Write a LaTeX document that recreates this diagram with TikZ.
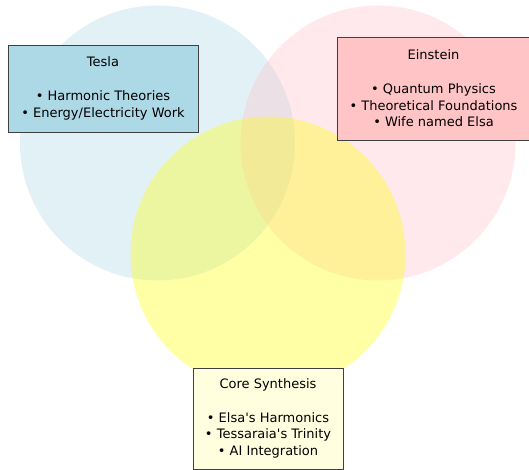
\documentclass[tikz,border=0pt]{standalone}
\usepackage{fontspec}
\setmainfont{DejaVu Sans}
\usetikzlibrary{positioning}

\definecolor{teslablue}{HTML}{ADD8E6}
\definecolor{einsteinpink}{HTML}{FFC0CB}
\definecolor{einsteinbox}{HTML}{FFC4C6}
\definecolor{coreyellow}{HTML}{FFFF00}
\definecolor{corepale}{HTML}{FFFFE0}

\tikzset{
  bubble/.style={fill opacity=0.35},
  topic/.style={draw=black!75, line width=0.8pt, align=center, inner sep=0pt,
    font=\fontsize{13}{16.8}\selectfont}
}

\begin{document}
\begin{tikzpicture}[x=1pt, y=-1pt]
        \useasboundingbox (0,0) rectangle (529,470);

        \fill[teslablue, bubble]    (157.5,143) circle (137.5pt);
        \fill[einsteinpink, bubble] (378,143)   circle (137.5pt);
        \fill[coreyellow, bubble]   (268,254)   circle (137.5pt);

        \node[topic, fill=teslablue, minimum width=190pt, minimum height=87pt]
            (tesla) at (103,88.5) {Tesla\\~\\• Harmonic Theories\\• Energy/Electricity Work};
        \node[topic, fill=einsteinbox, minimum width=193pt, minimum height=103pt]
            (einstein) at (433.5,88.5) {Einstein\\~\\• Quantum Physics\\• Theoretical Foundations\\• Wife named Elsa};
        \node[topic, fill=corepale, minimum width=150pt, minimum height=101pt]
            (core) at (268,418.5) {Core Synthesis\\~\\• Elsa\textquotesingle s Harmonics\\• Tessaraia\textquotesingle s Trinity\\• AI Integration};
\end{tikzpicture}
\end{document}
